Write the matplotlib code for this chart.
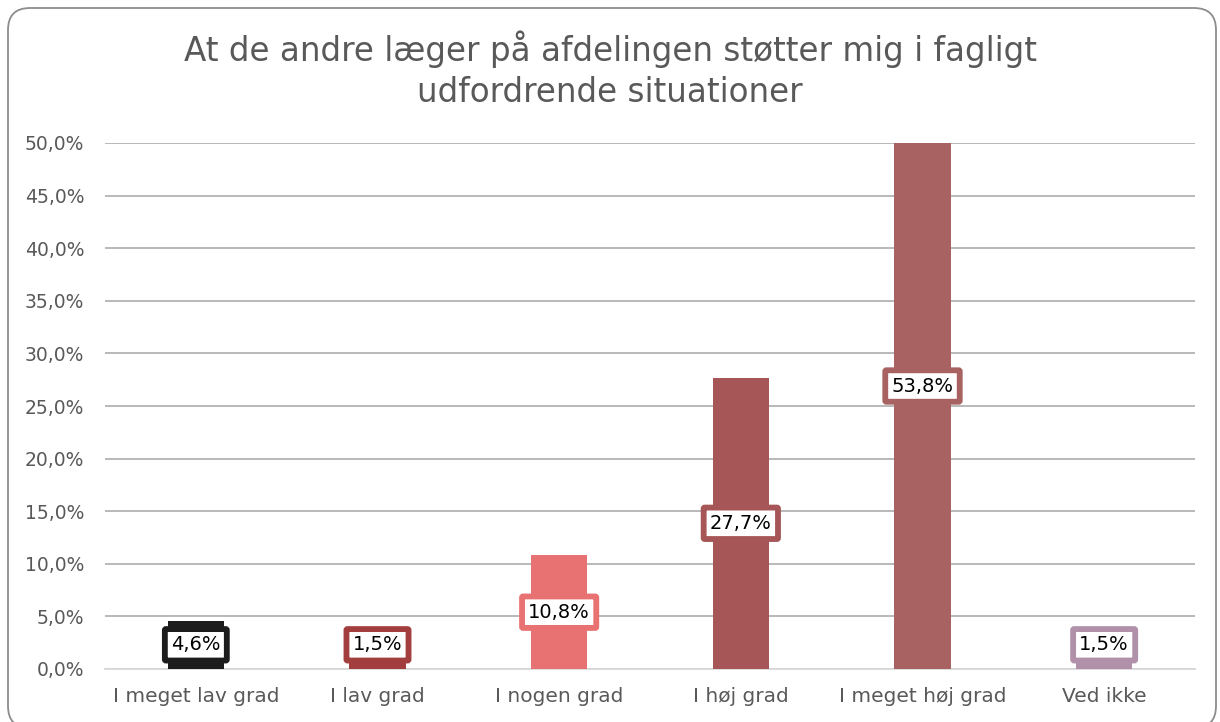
import matplotlib
matplotlib.use("Agg")
import matplotlib.pyplot as plt
from matplotlib.patches import FancyBboxPatch

categories = ["I meget lav grad", "I lav grad", "I nogen grad", "I høj grad", "I meget høj grad", "Ved ikke"]
values = [4.6, 1.5, 10.8, 27.7, 53.8, 1.5]
colors = ["#1c1c1c", "#a33e3e", "#e87272", "#a65656", "#a86262", "#b091a9"]
yticks = [0, 5, 10, 15, 20, 25, 30, 35, 40, 45, 50]
title = "At de andre læger på afdelingen støtter mig i fagligt\nudfordrende situationer"

W, H = 1220, 722
fig = plt.figure(figsize=(W / 100, H / 100), dpi=100)
fig.patch.set_facecolor("white")

border = FancyBboxPatch((8 / W, -6 / H), (W - 12) / W, (H - 2) / H,
                        boxstyle="round,pad=0,rounding_size=0.018",
                        transform=fig.transFigure, facecolor="none",
                        edgecolor="#8c8c8c", linewidth=1.3, clip_on=False,
                        mutation_aspect=W / H)
fig.patches.append(border)

ax = fig.add_axes([105 / W, (H - 669) / H, (1195 - 105) / W, (669 - 143) / H])
x = list(range(len(categories)))
ax.bar(x, values, width=0.31, color=colors, zorder=3)
ax.set_ylim(0, 50)
ax.set_xlim(-0.5, len(categories) - 0.5)
ax.set_yticks(yticks)
ax.set_yticklabels([f"{t:.1f}".replace(".", ",") + "%" for t in yticks],
                   fontsize=13.5, color="#595959")
ax.set_xticks(x)
ax.set_xticklabels(categories, fontsize=14.5, color="#595959")
ax.tick_params(axis="both", length=0)
ax.tick_params(axis="y", pad=15)
ax.tick_params(axis="x", pad=13)
for s in ["top", "right", "left"]:
    ax.spines[s].set_visible(False)
ax.spines["bottom"].set_color("#d9d9d9")
ax.spines["bottom"].set_linewidth(1.3)
ax.grid(axis="y", color="#b3b3b3", linewidth=1.3, zorder=0)
ax.set_axisbelow(True)

for xi, v, c in zip(x, values, colors):
    ypos = max(v / 2, 2.3)
    ax.text(xi, ypos, f"{v:.1f}".replace(".", ",") + "%", ha="center", va="center",
            fontsize=14, color="black", zorder=5,
            bbox=dict(boxstyle="round,pad=0.32,rounding_size=0.06", facecolor="white",
                      edgecolor=c, linewidth=4.2))

fig.text(0.5, 1 - 70 / H, title, ha="center", va="center", fontsize=23.5,
         color="#595959", linespacing=1.3)

fig.savefig("out.png", dpi=100)
